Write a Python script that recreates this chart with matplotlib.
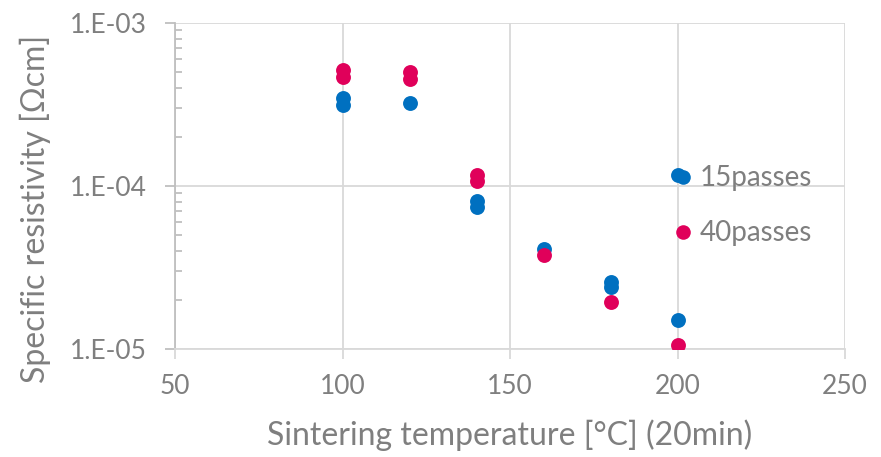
import math

import matplotlib
matplotlib.use("Agg")
import matplotlib.pyplot as plt
from matplotlib.ticker import FixedLocator, LogLocator, NullFormatter, FuncFormatter

# sintering temperature [C] and specific resistivity [Ohm cm]
temp_15 = [100, 100, 120, 140, 140, 160, 180, 180, 200, 200]
res_15 = [3.47e-4, 3.14e-4, 3.23e-4, 8.1e-5, 7.45e-5, 4.1e-5, 2.57e-5, 2.40e-5, 1.51e-5, 1.17e-4]

temp_40 = [100, 100, 120, 120, 140, 140, 160, 180, 200]
res_40 = [5.15e-4, 4.67e-4, 5.0e-4, 4.54e-4, 1.17e-4, 1.07e-4, 3.77e-5, 1.94e-5, 1.06e-5]

labels = ["15passes", "40passes"]
colors = ["#0070C0", "#E0005A"]

GREY = "#7F7F7F"
GRID = "#D9D9D9"
plt.rcParams["font.family"] = ["Lato", "DejaVu Sans"]

fig = plt.figure(figsize=(8.81, 4.57), dpi=100)
ax = fig.add_axes([175 / 881, 1 - 349 / 457, 670 / 881, 326 / 457])

ax.scatter(temp_15, res_15, s=115, color=colors[0], linewidths=0, zorder=3)
ax.scatter(temp_40, res_40, s=115, color=colors[1], linewidths=0, zorder=3)

ax.set_yscale("log")
ax.set_xlim(50, 250)
ax.set_ylim(1e-5, 1e-3)

ax.xaxis.set_major_locator(FixedLocator([50, 100, 150, 200, 250]))
ax.yaxis.set_major_locator(FixedLocator([1e-5, 1e-4, 1e-3]))
ax.yaxis.set_minor_locator(LogLocator(base=10, subs=range(2, 10)))
ax.yaxis.set_minor_formatter(NullFormatter())
ax.yaxis.set_major_formatter(FuncFormatter(lambda v, p: "1.E-%02d" % round(-math.log10(v))))

ax.grid(True, which="major", color=GRID, linewidth=1.3, zorder=0)
ax.set_axisbelow(True)

for side in ["top", "right"]:
    ax.spines[side].set_visible(False)
ax.spines["left"].set_color("#BFBFBF")
ax.spines["bottom"].set_color(GRID)
ax.spines["left"].set_linewidth(1.3)
ax.spines["bottom"].set_linewidth(1.3)

ax.tick_params(axis="x", which="major", direction="out", length=7, width=1.3,
               color=GRID, labelcolor=GREY, labelsize=19, pad=11)
ax.tick_params(axis="y", which="major", direction="out", length=7, width=1.3,
               color="#BFBFBF", labelcolor=GREY, labelsize=19, pad=13)
ax.tick_params(axis="y", which="minor", direction="in", length=5, width=1.3,
               color="#BFBFBF")

ax.set_xlabel("Sintering temperature [°C] (20min)", color=GREY, fontsize=23)
ax.xaxis.set_label_coords(0.5, -0.215)
ax.set_ylabel("Specific resistivity [Ωcm]", color=GREY, fontsize=23)
ax.yaxis.set_label_coords(-0.185, 0.43)

# legend placed inside the plot area like in the spreadsheet original
leg_handles = [plt.Line2D([], [], marker="o", linestyle="", markersize=10.5,
                          markerfacecolor=c, markeredgewidth=0) for c in colors]
leg = ax.legend(leg_handles, labels, loc="upper left", bbox_to_anchor=(0.737, 0.563),
                frameon=False, fontsize=20, labelcolor=GREY, handletextpad=0.12,
                handlelength=1.0, labelspacing=1.04, borderaxespad=0, borderpad=0)

fig.savefig("out.png", dpi=100)
